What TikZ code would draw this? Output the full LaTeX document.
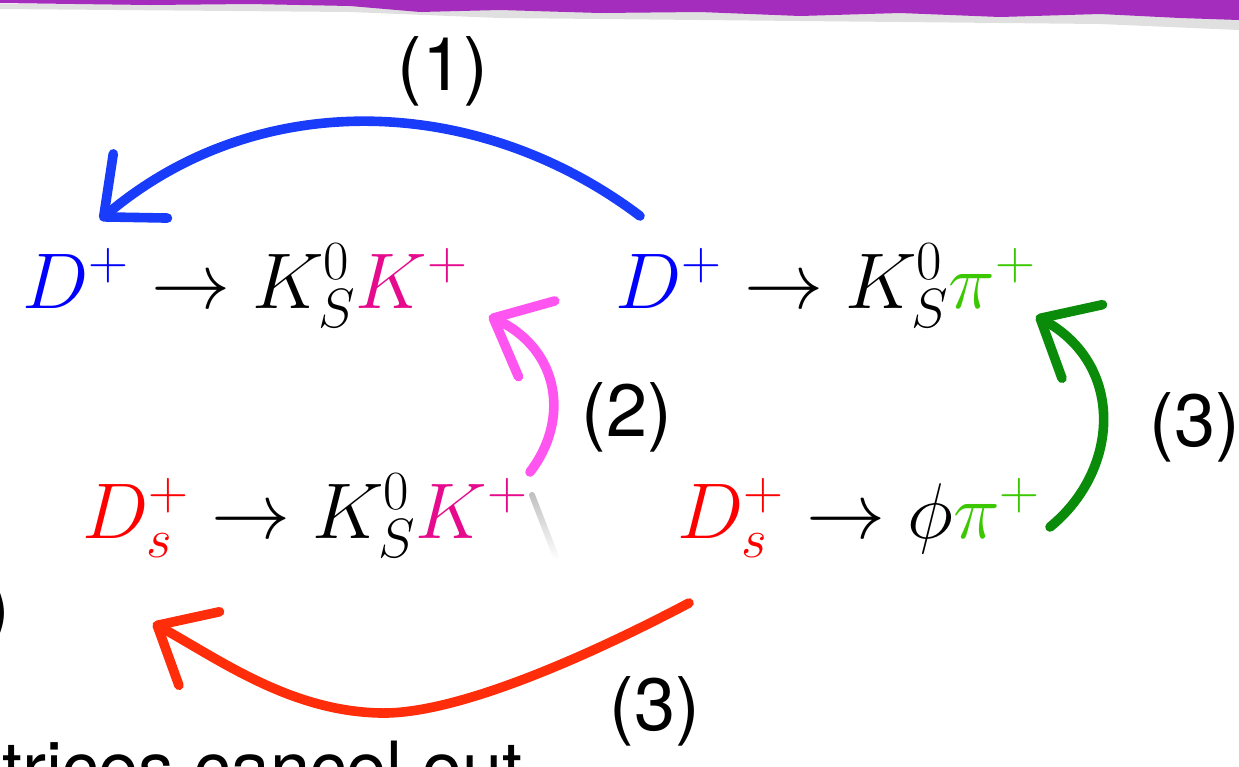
\RequirePackage{fix-cm}
\documentclass[tikz,border=0pt]{standalone}
\usepackage{amsmath}
\usepackage{fontspec}
\newfontfamily\labelfont{TeX Gyre Heros}
\usetikzlibrary{arrows.meta,fadings}

\definecolor{dblue}{RGB}{0,0,255}
\definecolor{kpink}{RGB}{230,10,140}
\definecolor{pigreen}{RGB}{60,200,0}
\definecolor{dsred}{RGB}{255,0,0}
\definecolor{blueink}{RGB}{25,60,250}
\definecolor{pinkink}{RGB}{255,85,240}
\definecolor{greenink}{RGB}{10,140,10}
\definecolor{redink}{RGB}{255,45,10}
\definecolor{bandpurple}{RGB}{165,45,190}

\begin{document}
\begin{tikzpicture}[x=0.5pt, y=-0.5pt,
    formula/.style={inner sep=0pt, anchor=base west, font=\fontsize{39.5}{47}\selectfont},
    tag/.style={inner sep=0pt, font=\labelfont\fontsize{37}{44}\selectfont},
    arrow/.style={line width=4.8pt, line cap=round, line join=round, -{Straight Barb[length=24pt,width=42pt,line width=4.8pt,round]}}
]
\useasboundingbox (0,0) rectangle (1239,767);
\clip (0,0) rectangle (1239,767);

% purple brush band at the top
\fill[black, opacity=0.12] (0,4) -- (1239,4) -- (1239,30) -- (1100,24) -- (900,22) -- (700,20) -- (500,18) -- (350,12) -- (0,9) -- cycle;
\fill[bandpurple] (0,0) -- (1239,0) -- (1239,20) -- (1180,18) -- (1100,14) -- (1000,17) -- (900,13)
    -- (800,16) -- (700,12) -- (600,13) -- (500,10) -- (420,12) -- (350,6) -- (250,4) -- (150,5) -- (0,3) -- cycle;

% the four decays
\node[formula] (dkk) at (22,308) {$\textcolor{dblue}{D^+}\to K^0_S\textcolor{kpink}{K^+}$};
\node[formula] (dkpi) at (615,308) {$\textcolor{dblue}{D^+}\to K^0_S\textcolor{pigreen}{\pi^+}$};
\node[formula] (dskk) at (82,538) {$\textcolor{dsred}{D_s^+}\to K^0_S\textcolor{kpink}{K^+}$};
\node[formula] (dsphipi) at (677,538) {$\textcolor{dsred}{D_s^+}\to \phi\textcolor{pigreen}{\pi^+}$};

% step labels
\node[tag] (lab1) at (443,71) {(1)};
\node[tag] (lab2) at (627,417) {(2)};
\node[tag] (lab3r) at (1195,427) {(3)};
\node[tag] (lab3b) at (655,711) {(3)};

% arrow ends
\coordinate (b1s) at (640,216);
\coordinate (b1e) at (100,220);
\coordinate (m2s) at (530,472);
\coordinate (m2e) at (489,316);
\coordinate (g3s) at (1050,527);
\coordinate (g3e) at (1036,316);
\coordinate (r3s) at (689,603);
\coordinate (r3e) at (153,623);
\coordinate (f1) at (532,495);
\coordinate (f2) at (556,557);

\draw[arrow, blueink] (b1s) .. controls (480,95) and (260,85) .. (b1e);
\draw[arrow, pinkink] (m2s) .. controls (570,420) and (560,350) .. (m2e);
\draw[arrow, greenink] (g3s) .. controls (1120,470) and (1125,365) .. (g3e);
\draw[arrow, redink] (r3s) .. controls (600,650) and (460,715) .. (380,713)
    .. controls (290,711) and (220,660) .. (r3e);
\draw[black!25, line width=3pt, line cap=round, path fading=south] (f1) -- (f2);

% slide text cut by the frame
\node[inner sep=0pt, anchor=base west, font=\labelfont\fontsize{36}{44}\selectfont] (cut1) at (2,793) {trices cancel out};
\node[inner sep=0pt, anchor=base west, font=\labelfont\fontsize{37}{44}\selectfont] (cut2) at (-15,632) {)};
\end{tikzpicture}
\end{document}
